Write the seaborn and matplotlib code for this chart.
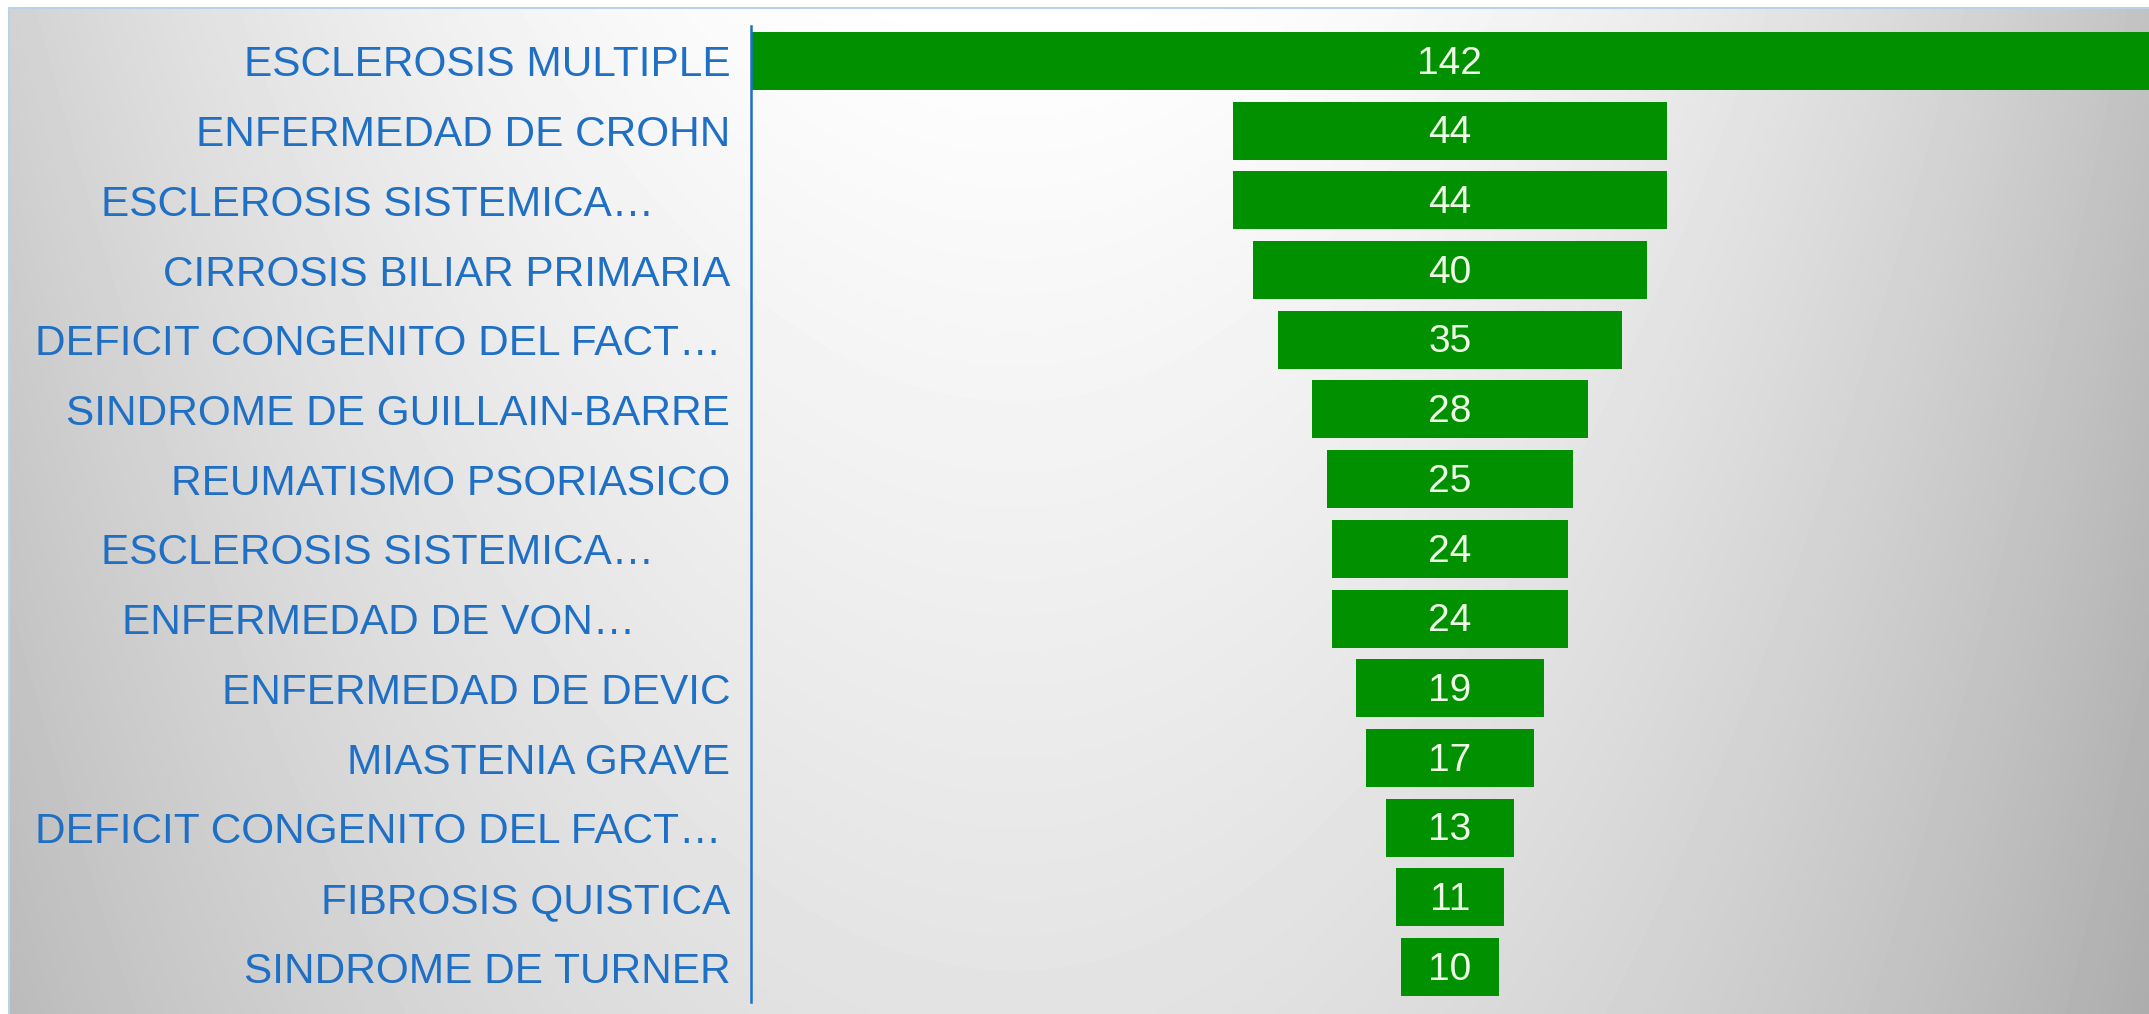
import numpy as np
import pandas as pd
import matplotlib
matplotlib.use("Agg")
import matplotlib.pyplot as plt
from matplotlib.lines import Line2D
import seaborn as sns

diseases = [
    "ESCLEROSIS MULTIPLE",
    "ENFERMEDAD DE CROHN",
    "ESCLEROSIS SISTEMICA…",
    "CIRROSIS BILIAR PRIMARIA",
    "DEFICIT CONGENITO DEL FACT…",
    "SINDROME DE GUILLAIN-BARRE",
    "REUMATISMO PSORIASICO",
    "ESCLEROSIS SISTEMICA…",
    "ENFERMEDAD DE VON…",
    "ENFERMEDAD DE DEVIC",
    "MIASTENIA GRAVE",
    "DEFICIT CONGENITO DEL FACT…",
    "FIBROSIS QUISTICA",
    "SINDROME DE TURNER",
]
patients = [142, 44, 44, 40, 35, 28, 25, 24, 24, 19, 17, 13, 11, 10]

# funnel = two half bars mirrored around zero
df = pd.DataFrame({"fila": range(len(patients)), "pacientes": patients})
df["derecha"] = df["pacientes"] / 2
df["izquierda"] = -df["pacientes"] / 2

sns.set_style("white")
plt.rcParams["font.family"] = ["Liberation Sans", "DejaVu Sans"]

W, H = 2149, 1014
fig = plt.figure(figsize=(W / 100, H / 100), dpi=100)
fig.patch.set_facecolor("white")

# grey gradient background, light near the top middle
bg = fig.add_axes([9 / W, 0, 1 - 9 / W, 1 - 8 / H], zorder=-1)
xx, yy = np.meshgrid(np.linspace(0, 1, 500), np.linspace(0, 1, 250))
dx = xx - 0.47
kx = np.where(dx < 0, 0.80, 0.85) * dx ** 2
shade = (1 - kx) * (1 - 0.11 * yy)
bg.imshow(shade, cmap="gray", vmin=0, vmax=1, aspect="auto", interpolation="bilinear")
bg.axis("off")
fig.add_artist(Line2D([9 / W, 1], [1 - 8 / H] * 2, color="#b9d2ea", lw=1.5, transform=fig.transFigure))
fig.add_artist(Line2D([9 / W] * 2, [0, 1 - 8 / H], color="#b9d2ea", lw=1.5, transform=fig.transFigure))

ax = fig.add_axes([751 / W, 1 - 1002 / H, 1398 / W, 976 / H])
ax.patch.set_alpha(0)
green = "#009000"
for col in ["derecha", "izquierda"]:
    sns.barplot(data=df, x=col, y="fila", orient="h", color=green, saturation=1,
                width=0.83, errorbar=None, linewidth=0, ax=ax)

for i, v in enumerate(patients):
    ax.annotate(str(v), (0, i), xytext=(0, -2), textcoords="offset points",
                ha="center", va="center", color="#eefbe6", fontsize=28)

ax.set_xlim(-71, 71)
ax.set_ylim(len(patients) - 0.5, -0.5)
ax.set_xticks([])
ax.set_yticks(range(len(diseases)))
ax.set_yticklabels(diseases)
ax.set_xlabel("")
ax.set_ylabel("")
for s in ["top", "right", "bottom"]:
    ax.spines[s].set_visible(False)
ax.spines["left"].set_color("#1a6fc8")
ax.spines["left"].set_linewidth(1.8)
ax.tick_params(axis="y", length=0, labelsize=30.5, labelcolor="#1f6fc5")

# truncated labels sit further left in the original
extra_pad = [0, 0, 55, 0, 6, 0, 0, 55, 68, 0, 0, 6, 0, 0]
for tick, extra in zip(ax.yaxis.get_major_ticks(), extra_pad):
    tick.set_pad(15 + extra)

fig.savefig("out.png", dpi=100)
